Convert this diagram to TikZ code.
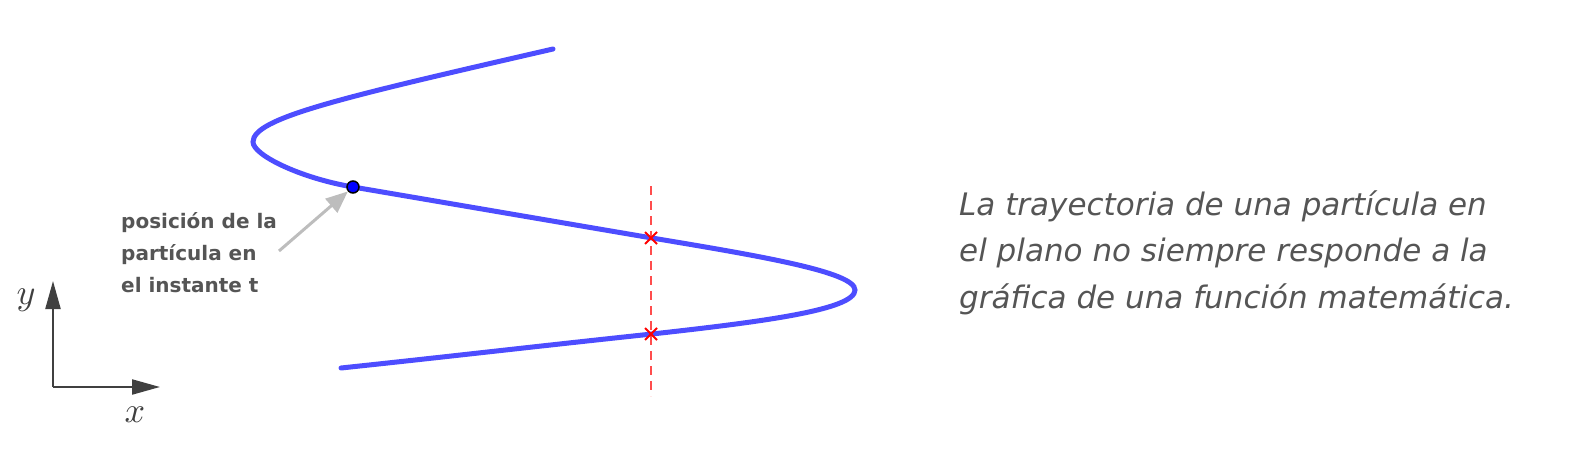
\documentclass[tikz,border=0pt]{standalone}
\usepackage{fontspec}
\newfontfamily\dejavu{DejaVu Sans}
\usetikzlibrary{arrows.meta, shapes.misc}
\definecolor{curveblue}{HTML}{4D4DFF}
\definecolor{textgray}{HTML}{555555}
\definecolor{axisgray}{HTML}{404040}
\definecolor{cutred}{HTML}{FF4D4D}
\definecolor{pointergray}{HTML}{BDBDBD}

\begin{document}
\begin{tikzpicture}[
    x=1pt, y=-1pt,
    trajectory/.style={draw=curveblue, line width=5pt, line cap=round},
    particle/.style={circle, draw=black, fill=blue, line width=1.5pt, minimum size=12pt, inner sep=0pt},
    pointer/.style={-{Triangle[length=22pt, width=18pt]}, draw=pointergray, line width=3pt},
    axis/.style={-{Triangle[length=28pt, width=15pt]}, draw=axisgray, line width=2.2pt},
    axislabel/.style={text=axisgray, inner sep=0pt, scale=3.6},
    cut/.style={draw=cutred, dashed, dash pattern=on 9pt off 6pt, line width=2pt},
    crossmark/.style={cross out, draw=red, line width=2pt, minimum size=10pt, inner sep=0pt},
    note/.style={text=textgray, align=left, inner sep=0pt, font=\dejavu\bfseries\fontsize{20}{32}\selectfont},
    caption/.style={text=textgray, align=left, inner sep=0pt, font=\dejavu\itshape\fontsize{31}{46.5}\selectfont},
]
\useasboundingbox (0,0) rectangle (1576,460);

\draw[trajectory] (553,49) .. controls (340,98) and (253,118) .. (253,142)
    .. controls (253,155) and (300,178) .. (353,187)
    .. controls (453,204) and (552,221) .. (652,238)
    .. controls (760,256) and (855,272) .. (855,290)
    .. controls (855,310) and (760,322) .. (652,334)
    .. controls (548,345) and (445,357) .. (341,368);

\coordinate (cuttop) at (651,186);
\coordinate (cutbot) at (651,396);
\draw[cut] (cuttop) -- (cutbot);
\node[crossmark] (upper) at (651,238) {};
\node[crossmark] (lower) at (651,334) {};

\node[particle] (pos) at (353,187) {};
\coordinate (tail) at (279,251);
\draw[pointer] (tail) -- (pos);
\node[note, anchor=base west] (note) at (121,292) {posición de la\\partícula en\\el instante t};

\coordinate (origin) at (53,387);
\coordinate (yend) at (53,281);
\coordinate (xend) at (160,387);
\draw[axis] (origin) -- (yend);
\draw[axis] (origin) -- (xend);
\node[axislabel] (ylab) at (26,300) {$y$};
\node[axislabel] (xlab) at (135,415) {$x$};

\node[caption, anchor=base west] (caption) at (959,308) {La trayectoria de una partícula en\\el plano no siempre responde a la\\gráfica de una función matemática.};
\end{tikzpicture}
\end{document}
